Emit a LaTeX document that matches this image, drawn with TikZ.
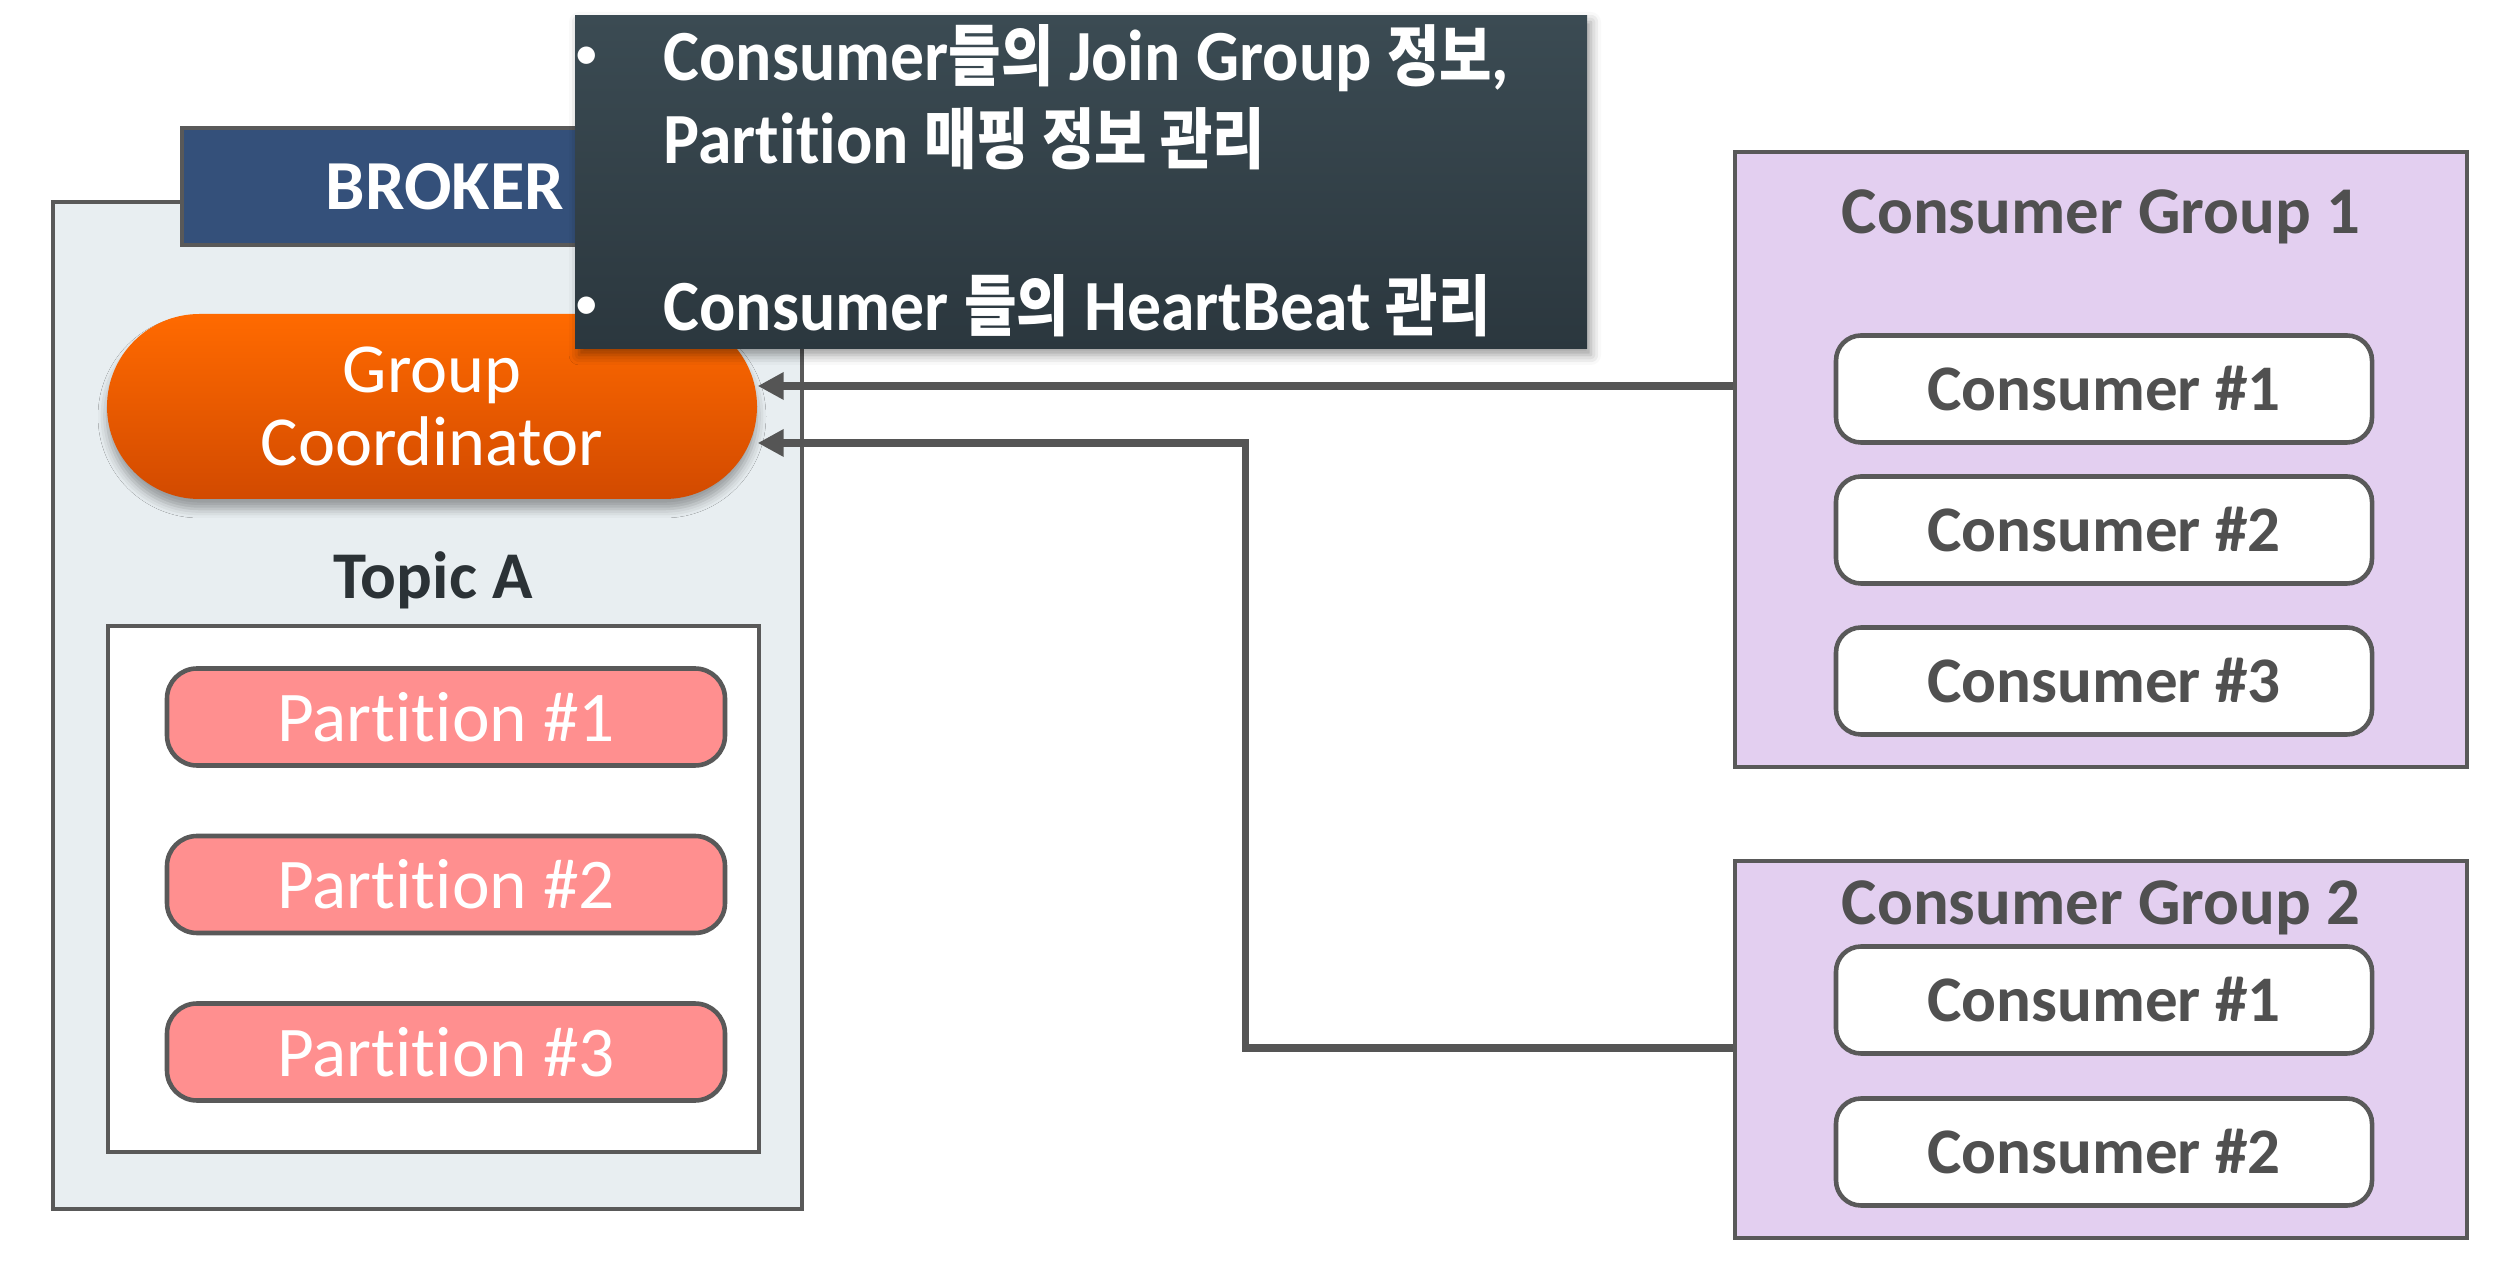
\documentclass[tikz,border=0pt]{standalone}
\usepackage{fontspec}
\setmainfont{Carlito}[Ligatures={NoCommon,NoContextual},RawFeature={-liga;-clig;-dlig}]
\newfontfamily\tipfont{Carlito}[Ligatures={NoCommon,NoContextual},RawFeature={-liga;-clig;-dlig},FakeStretch=0.94]
\newfontfamily\kr{Noto Sans CJK KR}[Scale=0.92,FakeStretch=0.86]
\usetikzlibrary{shapes.misc,shadows.blur,arrows.meta}
\definecolor{bordergray}{HTML}{595959}
\definecolor{brokerfill}{HTML}{E8EEF1}
\definecolor{tabblue}{HTML}{34507A}
\definecolor{tiptop}{HTML}{3B4B53}
\definecolor{tipbot}{HTML}{2B373E}
\definecolor{orangetop}{HTML}{FF6A00}
\definecolor{orangebot}{HTML}{D24A00}
\definecolor{partfill}{HTML}{FF8F8F}
\definecolor{cgfill}{HTML}{E3CFF0}
\definecolor{congray}{HTML}{505050}
\definecolor{topicdark}{HTML}{2B3236}
\definecolor{arrgray}{HTML}{555555}
\begin{document}
\begin{tikzpicture}[x=0.1mm,y=-0.1mm,
  box/.style={draw=bordergray,line width=1.4pt,inner sep=0pt},
  partbox/.style={draw=bordergray,line width=1.3pt,fill=partfill,rounded corners=3mm,
    minimum width=55.8mm,minimum height=9.7mm,inner sep=0pt,text=white,
    font=\fontsize{20.3}{22}\selectfont},
  conbox/.style={draw=bordergray,line width=1.3pt,fill=white,rounded corners=2.5mm,
    minimum width=53.6mm,minimum height=10.7mm,inner sep=0pt,text=congray,
    font=\fontsize{18.5}{20}\selectfont\bfseries},
  cgbox/.style={box,fill=cgfill,minimum width=73.2mm},
  cgtitle/.style={anchor=base,inner sep=0pt,text=congray,font=\fontsize{19}{21}\selectfont\bfseries},
  tiptext/.style={anchor=base west,inner sep=0pt,text=white,font=\tipfont\fontsize{20.5}{22}\selectfont\bfseries},
  bullet/.style={anchor=base,inner sep=0pt,text=white,font=\fontsize{14}{16}\selectfont},
  arr/.style={draw=arrgray,line width=2pt,-{Triangle[length=2.6mm,width=2.6mm]}}
]
\useasboundingbox (0,0) rectangle (2504,1276);
% broker
\node[box,fill=brokerfill,minimum width=74.9mm,minimum height=100.7mm] (broker) at (427.5,705.5) {};
\node[box,line width=1.2pt,fill=tabblue,minimum width=52.6mm,minimum height=11.7mm,text=white,
  font=\fontsize{20}{22}\selectfont\bfseries] (tab) at (445,186.5) {BROKER};
% group coordinator
\node[rounded rectangle,draw=none,top color=orangetop,bottom color=orangebot,
  minimum width=65mm,minimum height=18.5mm,inner sep=0pt,align=center,text=white,
  font=\fontsize{20}{21}\selectfont,
  blur shadow={shadow xshift=0mm,shadow yshift=-1mm,shadow blur radius=0.9mm,shadow opacity=35}]
  (gc) at (432,406.5) {Group\\Coordinator};
% tooltip
\node[draw=none,top color=tiptop,bottom color=tipbot,minimum width=101.2mm,minimum height=33.3mm,inner sep=0pt,
  blur shadow={shadow xshift=0.4mm,shadow yshift=-0.6mm,shadow blur radius=1mm,shadow opacity=40}]
  (tip) at (1081,182.5) {};
\node[bullet] (b1) at (587,70) {•};
\node[tiptext] (t1) at (663,81) {Consumer{\kr 들의} Join Group {\kr 정보},};
\node[tiptext] (t2) at (663,164) {Partition {\kr 매핑 정보 관리}};
\node[bullet] (b2) at (587,320) {•};
\node[tiptext] (t3) at (663,331) {Consumer {\kr 들의} HeartBeat {\kr 관리}};
% topic
\node[anchor=base,inner sep=0pt,text=topicdark,font=\fontsize{19}{21}\selectfont\bfseries] (topic) at (433,599) {Topic A};
\node[box,fill=white,minimum width=65.1mm,minimum height=52.6mm] (topicbox) at (433.5,889) {};
\node[partbox] (p1) at (446,717) {Partition \#1};
\node[partbox] (p2) at (446,884.5) {Partition \#2};
\node[partbox] (p3) at (446,1052) {Partition \#3};
% consumer group 1
\node[cgbox,minimum height=61.5mm] (cg1) at (2101,459.5) {};
\node[cgtitle] (cg1t) at (2101,234) {Consumer Group 1};
\node[conbox] (c11) at (2104,389) {Consumer \#1};
\node[conbox] (c12) at (2104,530) {Consumer \#2};
\node[conbox] (c13) at (2104,681) {Consumer \#3};
% consumer group 2
\node[cgbox,minimum height=37.7mm] (cg2) at (2101,1049.5) {};
\node[cgtitle] (cg2t) at (2101,925) {Consumer Group 2};
\node[conbox] (c21) at (2104,1000) {Consumer \#1};
\node[conbox] (c22) at (2104,1152) {Consumer \#2};
% arrows
\coordinate (a1) at (1735,386);
\draw[arr] (cg1.west |- a1) -- (gc.east |- a1);
\coordinate (a2) at (1245,1048);
\coordinate (a2b) at (1245,443);
\draw[arr] (cg2.west |- a2) -- (a2) -- (a2b) -- (gc.east |- a2b);
\end{tikzpicture}
\end{document}
